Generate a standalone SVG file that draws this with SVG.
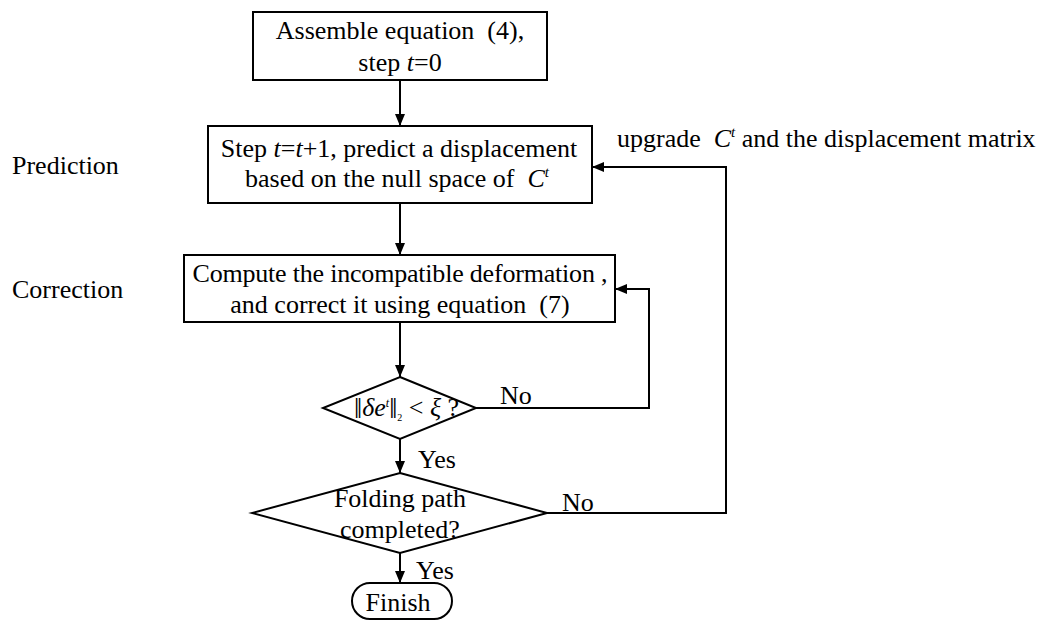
<svg xmlns="http://www.w3.org/2000/svg" width="1054" height="621" viewBox="0 0 1054 621">
<defs>
<style>
.shape{fill:#fff;stroke:#000;stroke-width:2}
.line{fill:none;stroke:#000;stroke-width:2}
text{font-family:"Liberation Serif","Times New Roman",serif;font-size:26px;fill:#000}
.c{text-anchor:middle}
.i{font-style:italic}
</style>
<marker id="arr" viewBox="0 0 12 10" refX="12" refY="5" markerWidth="12" markerHeight="10" markerUnits="userSpaceOnUse" orient="auto">
<path d="M0,0 L12,5 L0,10 Z" fill="#000"/>
</marker>
</defs>
<rect width="1054" height="621" fill="#fff"/>
<g id="labels">
<text x="12" y="174">Prediction</text>
<text x="12" y="298">Correction</text>
</g>
<g id="connectors">
<line class="line" x1="400" y1="80" x2="400" y2="126" marker-end="url(#arr)"/>
<line class="line" x1="400" y1="203" x2="400" y2="255" marker-end="url(#arr)"/>
<line class="line" x1="400" y1="322" x2="400" y2="377" marker-end="url(#arr)"/>
<polyline class="line" points="476,408 649,408 649,289 615,289" marker-end="url(#arr)"/>
<line class="line" x1="400" y1="439" x2="400" y2="473" marker-end="url(#arr)"/>
<polyline class="line" points="547,513 726,513 726,167 592,167" marker-end="url(#arr)"/>
<line class="line" x1="400" y1="553" x2="400" y2="583" marker-end="url(#arr)"/>
<text x="500" y="404">No</text>
<text x="418" y="468">Yes</text>
<text x="562" y="511">No</text>
<text x="416" y="579">Yes</text>
<text x="617" y="147">upgrade&#160; <tspan class="i">C</tspan><tspan class="i" font-size="15" dy="-10">t</tspan><tspan dy="10"> and the displacement matrix</tspan></text>
</g>
<g id="start">
<rect class="shape" x="253" y="12" width="294" height="68"/>
<text class="c" x="400" y="39">Assemble equation&#160; (4),</text>
<text class="c" x="400" y="71">step <tspan class="i">t</tspan>=0</text>
</g>
<g id="prediction">
<rect class="shape" x="208" y="126" width="384" height="77"/>
<text class="c" x="399" y="157">Step <tspan class="i">t</tspan>=<tspan class="i">t</tspan>+1, predict a displacement</text>
<text class="c" x="397" y="187">based on the null space of&#160; <tspan class="i">C</tspan><tspan class="i" font-size="15" dy="-10">t</tspan></text>
</g>
<g id="correction">
<rect class="shape" x="184" y="255" width="431" height="67"/>
<text class="c" x="400" y="282" textLength="415">Compute the incompatible deformation ,</text>
<text class="c" x="400" y="313">and correct it using equation&#160; (7)</text>
</g>
<g id="check">
<polygon class="shape" points="400,377 476,408 400,439 323,408"/>
<text x="354" y="416" font-size="20"><tspan font-size="29" dy="2">‖</tspan><tspan class="i" dy="-2">δe</tspan><tspan class="i" font-size="12" dy="-9">t</tspan><tspan font-size="29" dy="11">‖</tspan><tspan font-size="10" dy="3">2</tspan><tspan dy="-5"> &lt; </tspan><tspan class="i">ξ</tspan><tspan> ?</tspan></text>
</g>
<g id="completed">
<polygon class="shape" points="400,473 547,513 400,553 252,513"/>
<text class="c" x="400" y="507">Folding path</text>
<text class="c" x="400" y="538">completed?</text>
</g>
<g id="finish">
<rect class="shape" x="352" y="583" width="100" height="36" rx="18" ry="18"/>
<text class="c" x="398" y="611">Finish</text>
</g>
</svg>
